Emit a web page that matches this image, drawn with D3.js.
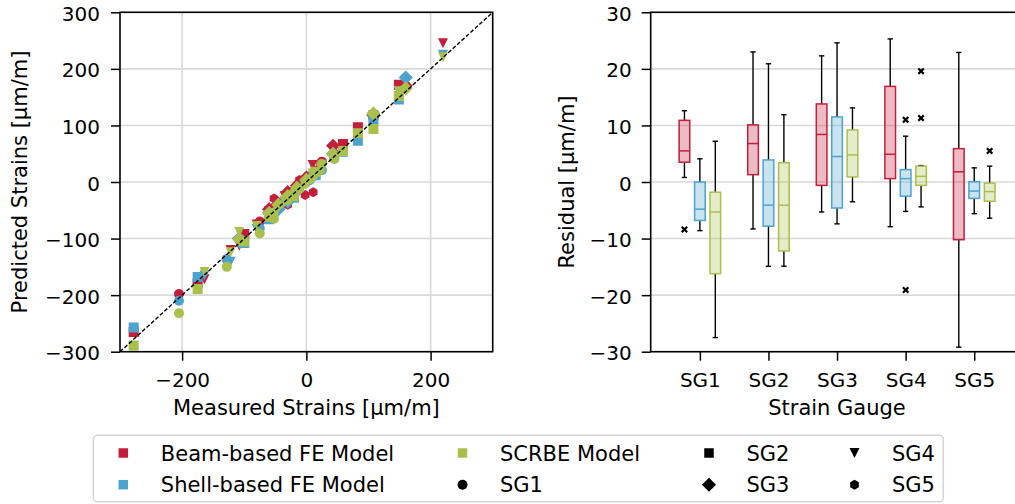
<!DOCTYPE html>
<html>
<head>
<meta charset="utf-8">
<script src="https://cdn.jsdelivr.net/npm/d3@7"></script>
<style>
  body { margin: 0; background: #fff; }
  text { font-family: "DejaVu Sans", sans-serif; fill: #000; }
</style>
</head>
<body>
<div id="chart"></div>
<script>
// models and gauges
const models = ['Beam-based FE Model', 'Shell-based FE Model', 'SCRBE Model'];
const modelColors = ['#c41e3a', '#4ba3ce', '#a9c04d'];
const gauges = ['SG1', 'SG2', 'SG3', 'SG4', 'SG5'];
const gaugeShapes = ['circle', 'square', 'diamond', 'triangle', 'hexagon'];

// measured strains per gauge [µm/m]
const measured = [
  [-205, -128, -75, -52, -20, 5, 25, 45],
  [-278, -175, -100, -60, -20, 15, 59, 83, 108, 149],
  [-108, -60, -45, -30, -15, 0, 43, 108, 160],
  [-164, -122, -108, -80, -35, 10, 149, 220],
  [-52, -30, -11, -2, 11, 23, 45]
];
// predicted strains per gauge, one array per model
const predBeam = [
  [-198, -136.4, -70, -46, -15, 8, 36, 50],
  [-265, -179, -92, -52, -18, 20, 67, 96.7, 118, 172],
  [-100, -48, -38, -18, -6, 8, 64, 118, 170],
  [-172, -120, -112.6, -75, -25, 30, 171, 245.3],
  [-29, -40, 3.5, -23, -18, 31, 45]
];
const predShell = [
  [-210, -137, -82, -56, -20, 3, 21, 41],
  [-257, -168, -108, -66, -28, 12, 53.6, 73, 110, 146],
  [-99.5, -55, -48, -35, -16, 2, 50, 120, 184.6],
  [-165, -141.1, -110, -83, -36, 10, 160, 225],
  [-55, -32, -12, 0, 9, 21, 41]
];
const predScrbe = [
  [-232, -150, -91, -65, -19, 5, 32, 41],
  [-289, -189, -105, -62, -25, 18, 55, 86, 93.7, 152],
  [-101, -55, -40, -25, -10, 4, 49.5, 121, 165.6],
  [-159, -124, -88.4, -78, -33, 15, 160.3, 220.4],
  [-53, -33, -13, -4, 10, 21, 45]
];

// residual box stats per gauge: [whisker low, q1, median, q3, whisker high]
const boxBeam = [
  [0.8, 3.5, 5.5, 10.9, 12.6],
  [-8.3, 1.3, 6.8, 10.1, 23.0],
  [-5.3, -0.6, 8.4, 13.8, 22.3],
  [-7.9, 0.6, 4.9, 16.9, 25.3],
  [-29.2, -10.2, 1.8, 5.9, 22.9]
];
const boxShell = [
  [-8.6, -6.8, -4.8, 0.0, 4.1],
  [-14.9, -7.8, -4.1, 3.9, 20.9],
  [-7.4, -4.6, 4.5, 11.5, 24.6],
  [-5.2, -2.5, 0.6, 2.2, 8.1],
  [-5.6, -2.9, -1.6, 0.05, 2.5]
];
const boxScrbe = [
  [-27.5, -16.2, -5.3, -1.8, 7.2],
  [-14.9, -12.2, -4.1, 3.4, 11.9],
  [-3.5, 0.9, 4.8, 9.2, 13.1],
  [-4.4, -0.6, 1.0, 2.8, 2.9],
  [-6.4, -3.4, -1.7, -0.2, 2.8]
];
const outBeam = [[-8.4], [], [], [], []];
const outShell = [[], [], [], [11.0, -19.1], []];
const outScrbe = [[], [], [], [19.6, 11.3], [5.5]];

const strainTicks = [-300, -200, -100, 0, 100, 200, 300];
const measTicks = [-200, 0, 200];
const residTicks = [-30, -20, -10, 0, 10, 20, 30];

const width = 1015;
const height = 504;
const plotTop = 12.3;
const plotBottom = 351.7;
const tickFont = 20;
const labelFont = 21;

const svg = d3.select('#chart')
  .append('svg')
  .attr('width', width)
  .attr('height', height)
  .style('background', '#fff');

const xL = d3.scaleLinear().domain([-300, 300]).range([120, 492.7]);
const yL = d3.scaleLinear().domain([-300, 300]).range([plotBottom, plotTop]);
const xR = d3.scaleLinear().domain([1 - 0.717, 5 + 0.717]).range([650.7, 1023.4]);
const yR = d3.scaleLinear().domain([-30, 30]).range([plotBottom, plotTop]);

function markerPath(shape, m) {
  const h = m / 2;
  if (shape === 'circle') return d3.symbol(d3.symbolCircle, Math.PI * h * h)();
  if (shape === 'square') return `M${-h},${-h}H${h}V${h}H${-h}Z`;
  if (shape === 'diamond') {
    const d = h * Math.SQRT2;
    return `M0,${-d}L${d},0L0,${d}L${-d},0Z`;
  }
  if (shape === 'triangle') return `M${-h},${-h}L${h},${-h}L0,${h}Z`;
  if (shape === 'hexagon') {
    const pts = d3.range(6).map(i => {
      const a = Math.PI / 2 + i * Math.PI / 3;
      return [h * Math.cos(a), -h * Math.sin(a)];
    });
    return 'M' + pts.map(p => p.join(',')).join('L') + 'Z';
  }
  if (shape === 'x') {
    const t = h * 0.45;
    return `M${-h},${-h + t}L${-h + t},${-h}L0,${-t}L${h - t},${-h}L${h},${-h + t}L${t},0` +
      `L${h},${h - t}L${h - t},${h}L0,${t}L${-h + t},${h}L${-h},${h - t}L${-t},0Z`;
  }
}

// ---------------- left: predicted vs measured ----------------
const left = svg.append('g');

left.append('g')
  .selectAll('line.gx')
  .data(measTicks)
  .enter().append('line')
  .attr('x1', d => xL(d)).attr('x2', d => xL(d))
  .attr('y1', plotTop).attr('y2', plotBottom)
  .attr('stroke', '#d9d9d9').attr('stroke-width', 1.6);

left.append('g')
  .selectAll('line.gy')
  .data(strainTicks)
  .enter().append('line')
  .attr('x1', xL.range()[0]).attr('x2', xL.range()[1])
  .attr('y1', d => yL(d)).attr('y2', d => yL(d))
  .attr('stroke', '#d9d9d9').attr('stroke-width', 1.6);

svg.append('defs').append('clipPath').attr('id', 'clipL')
  .append('rect')
  .attr('x', 120).attr('y', plotTop)
  .attr('width', 372.7).attr('height', plotBottom - plotTop);

const pts = left.append('g').attr('clip-path', 'url(#clipL)');
const preds = [predBeam, predShell, predScrbe];
preds.forEach((pm, mi) => {
  pm.forEach((vals, gi) => {
    pts.append('g')
      .selectAll('path')
      .data(vals.map((v, k) => ({ m: measured[gi][k], p: v })))
      .enter().append('path')
      .attr('d', markerPath(gaugeShapes[gi], 10))
      .attr('transform', d => `translate(${xL(d.m)},${yL(d.p)})`)
      .attr('fill', modelColors[mi]);
  });
});

left.append('line')
  .attr('x1', xL(-300)).attr('y1', yL(-300))
  .attr('x2', xL(300)).attr('y2', yL(300))
  .attr('stroke', '#000').attr('stroke-width', 1.4)
  .attr('stroke-dasharray', '4,2');

function styleAxis(g) {
  g.select('.domain').remove();
  g.selectAll('.tick line').attr('stroke', '#000').attr('stroke-width', 1.5);
  g.selectAll('.tick text').attr('font-size', tickFont).attr('fill', '#000')
    .style('font-family', '"DejaVu Sans", sans-serif');
}

left.append('g')
  .attr('transform', `translate(0,${plotBottom})`)
  .call(d3.axisBottom(xL).tickValues(measTicks).tickSize(9).tickSizeOuter(0))
  .call(styleAxis)
  .call(g => g.selectAll('.tick text').attr('dy', null).attr('y', 35));

left.append('g')
  .attr('transform', `translate(120,0)`)
  .call(d3.axisLeft(yL).tickValues(strainTicks).tickSize(9).tickPadding(11).tickSizeOuter(0))
  .call(styleAxis)
  .call(g => g.selectAll('.tick text').attr('dy', '0.4em'));

left.append('rect')
  .attr('x', 120).attr('y', plotTop)
  .attr('width', 372.7).attr('height', plotBottom - plotTop)
  .attr('fill', 'none').attr('stroke', '#000').attr('stroke-width', 1.6);

left.append('text')
  .attr('x', 306.4).attr('y', 415)
  .attr('text-anchor', 'middle')
  .attr('font-size', labelFont)
  .text('Measured Strains [μm/m]');

left.append('text')
  .attr('transform', 'rotate(-90)')
  .attr('x', -182).attr('y', 27)
  .attr('text-anchor', 'middle')
  .attr('font-size', labelFont)
  .text('Predicted Strains [μm/m]');

// ---------------- right: residual box plots ----------------
const right = svg.append('g');

right.append('g')
  .selectAll('line')
  .data(residTicks)
  .enter().append('line')
  .attr('x1', xR.range()[0]).attr('x2', xR.range()[1])
  .attr('y1', d => yR(d)).attr('y2', d => yR(d))
  .attr('stroke', '#d9d9d9').attr('stroke-width', 1.6);

const boxes = [boxBeam, boxShell, boxScrbe];
const outs = [outBeam, outShell, outScrbe];
const offsets = [-0.225, 0, 0.225];
const boxW = 0.155;

boxes.forEach((bm, mi) => {
  bm.forEach((s, gi) => {
    const cx = gi + 1 + offsets[mi];
    const x0 = xR(cx - boxW / 2), x1 = xR(cx + boxW / 2), xc = xR(cx);
    const capHalf = (x1 - x0) / 4;
    const g = right.append('g');
    // whiskers
    g.append('line').attr('x1', xc).attr('x2', xc)
      .attr('y1', yR(s[0])).attr('y2', yR(s[1]))
      .attr('stroke', '#000').attr('stroke-width', 1.4);
    g.append('line').attr('x1', xc).attr('x2', xc)
      .attr('y1', yR(s[3])).attr('y2', yR(s[4]))
      .attr('stroke', '#000').attr('stroke-width', 1.4);
    [s[0], s[4]].forEach(v => {
      g.append('line').attr('x1', xc - capHalf).attr('x2', xc + capHalf)
        .attr('y1', yR(v)).attr('y2', yR(v))
        .attr('stroke', '#000').attr('stroke-width', 1.4);
    });
    // box
    g.append('rect')
      .attr('x', x0).attr('y', yR(s[3]))
      .attr('width', x1 - x0).attr('height', yR(s[1]) - yR(s[3]))
      .attr('fill', modelColors[mi]).attr('fill-opacity', 0.3)
      .attr('stroke', modelColors[mi]).attr('stroke-width', 1.5);
    g.append('line').attr('x1', x0).attr('x2', x1)
      .attr('y1', yR(s[2])).attr('y2', yR(s[2]))
      .attr('stroke', modelColors[mi]).attr('stroke-width', 1.5);
    // outliers
    g.selectAll('path.out')
      .data(outs[mi][gi])
      .enter().append('path')
      .attr('d', markerPath('x', 7))
      .attr('transform', d => `translate(${xc},${yR(d)})`)
      .attr('fill', '#000');
  });
});

right.append('g')
  .attr('transform', `translate(0,${plotBottom})`)
  .call(d3.axisBottom(xR).tickValues([1, 2, 3, 4, 5]).tickFormat(d => gauges[d - 1]).tickSize(9).tickSizeOuter(0))
  .call(styleAxis)
  .call(g => g.selectAll('.tick text').attr('dy', null).attr('y', 35));

right.append('g')
  .attr('transform', `translate(650.7,0)`)
  .call(d3.axisLeft(yR).tickValues(residTicks).tickSize(9).tickPadding(10).tickSizeOuter(0))
  .call(styleAxis)
  .call(g => g.selectAll('.tick text').attr('dy', '0.4em'));

right.append('rect')
  .attr('x', 650.7).attr('y', plotTop)
  .attr('width', 372.7).attr('height', plotBottom - plotTop)
  .attr('fill', 'none').attr('stroke', '#000').attr('stroke-width', 1.6);

right.append('text')
  .attr('x', 837).attr('y', 415)
  .attr('text-anchor', 'middle')
  .attr('font-size', labelFont)
  .text('Strain Gauge');

right.append('text')
  .attr('transform', 'rotate(-90)')
  .attr('x', -182).attr('y', 574)
  .attr('text-anchor', 'middle')
  .attr('font-size', labelFont)
  .text('Residual [μm/m]');

// ---------------- legend ----------------
const legendItems = [
  { label: models[0], shape: 'square', color: modelColors[0] },
  { label: models[1], shape: 'square', color: modelColors[1] },
  { label: models[2], shape: 'square', color: modelColors[2] },
  { label: gauges[0], shape: 'circle', color: '#000' },
  { label: gauges[1], shape: 'square', color: '#000' },
  { label: gauges[2], shape: 'diamond', color: '#000' },
  { label: gauges[3], shape: 'triangle', color: '#000' },
  { label: gauges[4], shape: 'hexagon', color: '#000' }
];
const legendCols = [123.3, 462.5, 709, 854.5];
const legendRows = [453, 484.7];

const legend = svg.append('g');
legend.append('rect')
  .attr('x', 93.3).attr('y', 435.3)
  .attr('width', 850).attr('height', 66.5)
  .attr('rx', 4)
  .attr('fill', '#fff').attr('stroke', '#d4d4d4').attr('stroke-width', 1.5);

const li = legend.selectAll('g.item')
  .data(legendItems)
  .enter().append('g')
  .attr('transform', (d, i) => `translate(${legendCols[Math.floor(i / 2)]},${legendRows[i % 2]})`);

li.append('path')
  .attr('d', d => markerPath(d.shape, d.shape === 'square' ? 9.5 : 10))
  .attr('fill', d => d.color);

li.append('text')
  .attr('x', 37.5)
  .attr('dy', '0.36em')
  .attr('font-size', labelFont)
  .text(d => d.label);
</script>
</body>
</html>
